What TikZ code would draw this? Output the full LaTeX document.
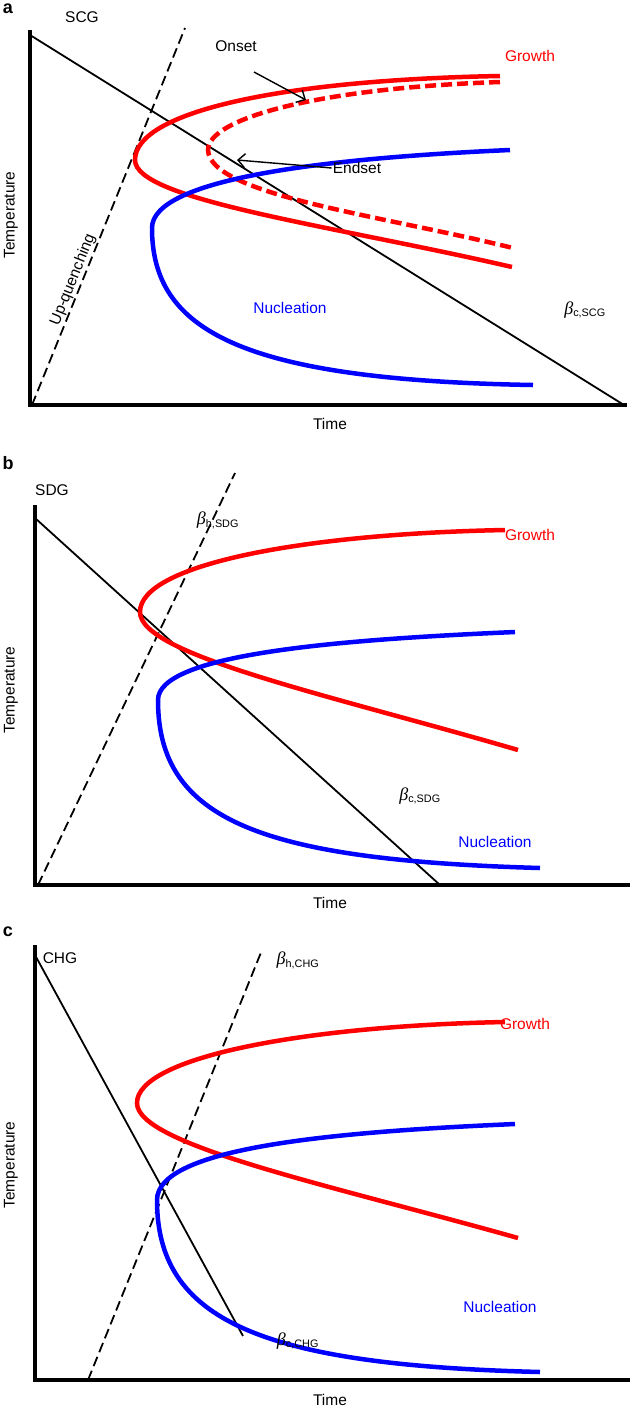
\documentclass[tikz,border=0pt]{standalone}
\usetikzlibrary{arrows.meta}
\usepackage{fontspec}
\setmainfont{Liberation Sans}
\newfontfamily\seriff{Liberation Serif}
\newcommand{\bet}[1]{{\seriff\itshape\fontsize{18}{18}\selectfont β}\textsubscript{#1}}
\begin{document}
\begin{tikzpicture}[x=1pt,y=-1pt,
  axis/.style={line width=4pt},
  cool/.style={line width=1.8pt},
  heat/.style={line width=1.8pt,dash pattern=on 10pt off 5pt},
  gro/.style={line width=4.5pt,red},
  nuc/.style={line width=4.5pt,blue},
  lab/.style={font=\fontsize{15.5}{17}\selectfont,inner sep=1pt},
  pl/.style={font=\fontsize{18}{18}\selectfont\bfseries},
  arr/.style={line width=1.4pt,-{Straight Barb[length=7pt]}}]
\useasboundingbox (0,0) rectangle (633,1409);
% ---------- panel a
\node[pl] (pa) at (8,9) {a};
\node[lab] (ta) at (82,17) {SCG};
\coordinate (a0) at (30,405);
\draw[axis] (30,30) -- (a0) -- (627,405);
\coordinate (ca1) at (30,35); \coordinate (ca2) at (624,405);
\draw[cool] (ca1) -- (ca2);
\coordinate (ha1) at (32,405); \coordinate (ha2) at (185,28);
\draw[heat] (ha1) -- (ha2);
\draw[gro] (500,76) .. controls (280,80) and (135,112) .. (135,160) .. controls (135,200) and (330,225) .. (512,267);
\draw[gro,dash pattern=on 11pt off 5pt] (500,82) .. controls (320,88) and (208,118) .. (208,150) .. controls (210,195) and (380,215) .. (513,248);
\draw[nuc] (510,150) .. controls (330,158) and (152,178) .. (152,228) .. controls (152,330) and (240,380) .. (533,385);
\node[lab] (on) at (236,46) {Onset};
\coordinate (onS) at (254,72);
\coordinate (onA) at (306,100);
\draw[arr] (onS) -- (onA);
\node[lab] (en) at (357,168) {Endset};
\coordinate (enA) at (237,160);
\draw[arr] (en.west) -- (enA);
\node[lab,red] (ga) at (530,56) {Growth};
\node[lab,blue] (na) at (290,308) {Nucleation};
\node[lab] (ba) at (585,310) {\bet{c,SCG}};
\node[lab,rotate=90] (tea) at (11,215) {Temperature};
\node[lab,rotate=68] (uq) at (73,280) {Up-quenching};
\node[lab] (tia) at (330,424) {Time};
% ---------- panel b
\node[pl] (pb) at (8,463) {b};
\node[lab] (tb) at (52,490) {SDG};
\draw[axis] (35,505) -- (35,885) -- (630,885);
\coordinate (cb1) at (35,518); \coordinate (cb2) at (440,885);
\draw[cool] (cb1) -- (cb2);
\coordinate (hb1) at (38,885); \coordinate (hb2) at (235,473);
\draw[heat] (hb1) -- (hb2);
\draw[gro] (505,530) .. controls (300,534) and (140,565) .. (140,612) .. controls (140,655) and (330,695) .. (518,750);
\draw[nuc] (515,632) .. controls (330,640) and (158,655) .. (158,700) .. controls (158,820) and (260,860) .. (540,868);
\node[lab] (bhb) at (218,520) {\bet{h,SDG}};
\node[lab,red] (gb) at (530,535) {Growth};
\node[lab] (bcb) at (420,796) {\bet{c,SDG}};
\node[lab,blue] (nb) at (495,842) {Nucleation};
\node[lab,rotate=90] (teb) at (11,690) {Temperature};
\node[lab] (tib) at (330,903) {Time};
% ---------- panel c
\node[pl] (pc) at (8,932) {c};
\node[lab] (tc) at (60,958) {CHG};
\draw[axis] (35,945) -- (35,1380) -- (630,1380);
\coordinate (cc1) at (35,955); \coordinate (cc2) at (243,1336);
\draw[cool] (cc1) -- (cc2);
\coordinate (hc1) at (88,1380); \coordinate (hc2) at (262,950);
\draw[heat] (hc1) -- (hc2);
\draw[gro] (505,1022) .. controls (300,1026) and (137,1058) .. (137,1103) .. controls (137,1145) and (330,1185) .. (518,1238);
\draw[nuc] (515,1124) .. controls (330,1132) and (157,1148) .. (157,1200) .. controls (157,1320) and (260,1365) .. (540,1372);
\node[lab] (bhc) at (298,960) {\bet{h,CHG}};
\node[lab,red] (gc) at (525,1024) {Growth};
\node[lab] (bcc) at (298,1341) {\bet{c,CHG}};
\node[lab,blue] (nc) at (500,1307) {Nucleation};
\node[lab,rotate=90] (tec) at (11,1165) {Temperature};
\node[lab] (tic) at (330,1400) {Time};
\end{tikzpicture}
\end{document}
